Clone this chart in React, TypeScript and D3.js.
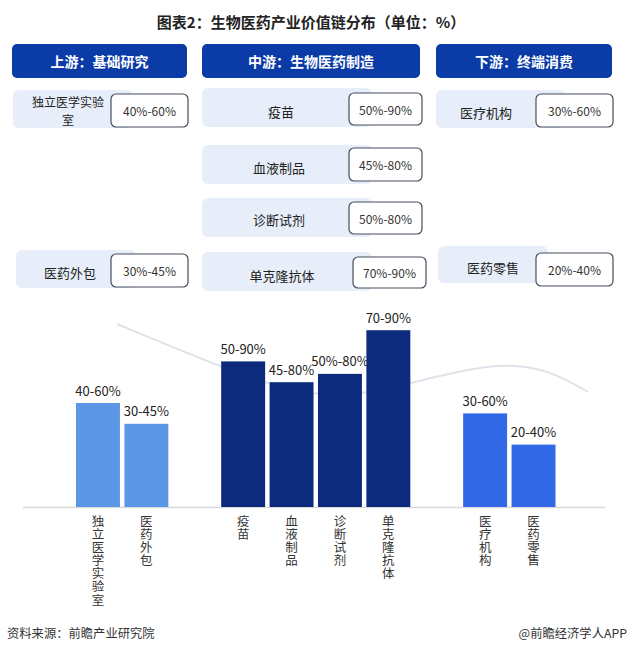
import React from "react";
import * as d3 from "d3";

const title = "图表2：生物医药产业价值链分布（单位：%）";
const stageNames = ["上游：基础研究", "中游：生物医药制造", "下游：终端消费"];
const upCats = ["独立医学实验室", "医药外包"];
const midCats = ["疫苗", "血液制品", "诊断试剂", "单克隆抗体"];
const downCats = ["医疗机构", "医药零售"];
const upRanges = ["40%-60%", "30%-45%"];
const midRanges = ["50%-90%", "45%-80%", "50%-80%", "70%-90%"];
const downRanges = ["30%-60%", "20%-40%"];
const upBarLabels = ["40-60%", "30-45%"];
const midBarLabels = ["50-90%", "45-80%", "50%-80%", "70-90%"];
const downBarLabels = ["30-60%", "20-40%"];
const upValues = [50, 40];
const midValues = [70, 60, 64, 85];
const downValues = [45, 30];
const source = "资料来源：前瞻产业研究院";
const credit = "@前瞻经济学人APP";

const FONT = "'Noto Sans CJK SC', 'Noto Sans', sans-serif";
const groupColors = ["#5b97e4", "#0c2b7c", "#3068e6"];

type Bar = { key: string; label: string; value: number; group: number };

const bars: Bar[] = [
  ...upCats.map((c, i) => ({ key: c, label: upBarLabels[i], value: upValues[i], group: 0 })),
  ...midCats.map((c, i) => ({ key: c, label: midBarLabels[i], value: midValues[i], group: 1 })),
  ...downCats.map((c, i) => ({ key: c, label: downBarLabels[i], value: downValues[i], group: 2 })),
];

const slots = [...upCats, "_gap1", ...midCats, "_gap2", ...downCats];

export default function App() {
  const W = 631;
  const H = 652;
  const baseY = 507;
  const x = d3.scaleBand<string>().domain(slots).range([76, 555.5]).paddingInner(0.092).paddingOuter(0);
  const y = d3.scaleLinear().domain([0, 100]).range([baseY, baseY - 208]);

  const headers = [
    { x: 12, w: 175 },
    { x: 202, w: 218 },
    { x: 436, w: 176 },
  ];

  const panel = [
    { label: upCats[0], value: upRanges[0], bg: [13, 90, 120, 38], box: [111, 94, 77, 33], tx: 68, lines: ["独立医学实验", "室"], ty: 101 },
    { label: upCats[1], value: upRanges[1], bg: [16, 250, 120, 38], box: [111, 254, 77, 33], tx: 70, ty: 272 },
    { label: midCats[0], value: midRanges[0], bg: [202, 88, 170, 39], box: [349, 93, 73, 32], tx: 281, ty: 111 },
    { label: midCats[1], value: midRanges[1], bg: [202, 145, 170, 39], box: [349, 148, 73, 33], tx: 279, ty: 167 },
    { label: midCats[2], value: midRanges[2], bg: [202, 198, 170, 39], box: [349, 202, 73, 32], tx: 279, ty: 219 },
    { label: midCats[3], value: midRanges[3], bg: [202, 252, 170, 39], box: [353, 257, 73, 31], tx: 282, ty: 275 },
    { label: downCats[0], value: downRanges[0], bg: [436, 90, 130, 38], box: [536, 94, 77, 33], tx: 486, ty: 112 },
    { label: downCats[1], value: downRanges[1], bg: [438, 246, 110, 37], box: [536, 253, 77, 33], tx: 493, ty: 267 },
  ];

  const curve = d3.line<[number, number]>().curve(d3.curveBasis)([
    [117, 324],
    [220, 367],
    [300, 395],
    [360, 396],
    [430, 378],
    [500, 362],
    [550, 370],
    [588, 392],
  ]);

  return (
    <svg width={W} height={H} viewBox={`0 0 ${W} ${H}`} style={{ display: "block", position: "absolute", left: 0, top: 0, fontFamily: FONT }}>
      <rect x={0} y={0} width={W} height={H} fill="#ffffff" />
      <text x={311} y={21} textAnchor="middle" dominantBaseline="central" fontSize={15} fontWeight="bold" fill="#222">
        {title}
      </text>
      {headers.map((h, i) => (
        <g key={i}>
          <rect x={h.x} y={44} width={h.w} height={34} rx={5} fill="#0b3ba7" />
          <text x={h.x + h.w / 2} y={61} textAnchor="middle" dominantBaseline="central" fontSize={14} fontWeight="bold" fill="#fff">
            {stageNames[i]}
          </text>
        </g>
      ))}
      {panel.map((p, i) => (
        <g key={i}>
          <rect x={p.bg[0]} y={p.bg[1]} width={p.bg[2]} height={p.bg[3]} rx={6} fill="#e7eef9" />
          {p.lines ? (
            p.lines.map((ln, j) => (
              <text key={j} x={p.tx} y={p.ty + j * 18} textAnchor="middle" dominantBaseline="central" fontSize={12} fill="#222">
                {ln}
              </text>
            ))
          ) : (
            <text x={p.tx} y={p.ty} textAnchor="middle" dominantBaseline="central" fontSize={13} fill="#222">
              {p.label}
            </text>
          )}
          <rect x={p.box[0]} y={p.box[1]} width={p.box[2]} height={p.box[3]} rx={5} fill="#fff" stroke="#454d5e" strokeWidth={1.2} />
          <text x={p.box[0] + p.box[2] / 2} y={p.box[1] + p.box[3] / 2} textAnchor="middle" dominantBaseline="central" fontSize={12} fill="#333">
            {p.value}
          </text>
        </g>
      ))}
      <path d={curve || ""} fill="none" stroke="#dfe2e8" strokeWidth={2} />
      <line x1={23} x2={605} y1={baseY + 0.5} y2={baseY + 0.5} stroke="#d9d9d9" strokeWidth={1.5} />
      {bars.map((b) => {
        const bx = x(b.key)!;
        const bw = x.bandwidth();
        const top = y(b.value);
        return (
          <g key={b.key}>
            <rect x={bx} y={top} width={bw} height={baseY - top} fill={groupColors[b.group]} />
            <text x={bx + bw / 2} y={top - 13} textAnchor="middle" dominantBaseline="central" fontSize={13} fill="#222">
              {b.label}
            </text>
            <text
              x={bx + bw / 2}
              y={515}
              fontSize={12.5}
              fill="#333"
              style={{ writingMode: "vertical-rl", textOrientation: "upright", letterSpacing: "0.6px" } as React.CSSProperties}
            >
              {b.key}
            </text>
          </g>
        );
      })}
      <text x={7} y={633} dominantBaseline="central" fontSize={12.3} fill="#333">
        {source}
      </text>
      <text x={627} y={633} textAnchor="end" dominantBaseline="central" fontSize={12.3} fill="#333">
        {credit}
      </text>
    </svg>
  );
}
